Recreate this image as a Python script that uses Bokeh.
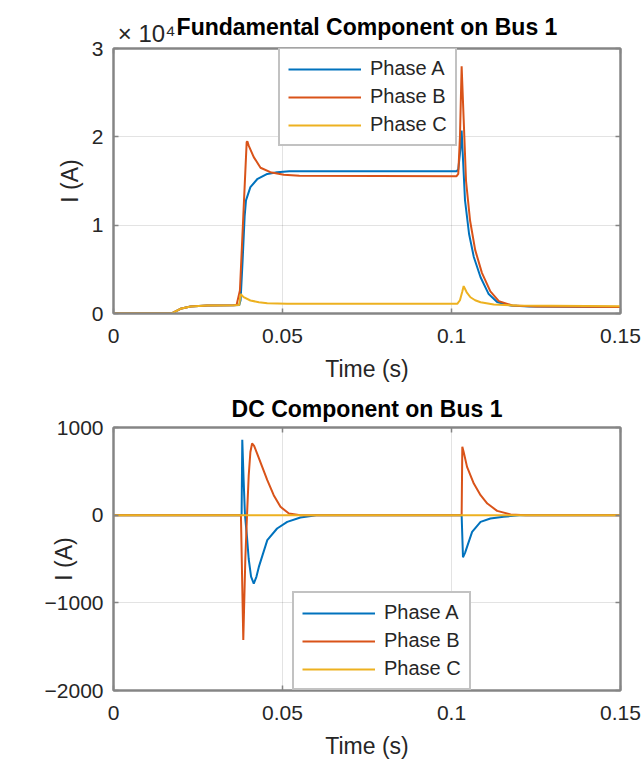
import numpy as np
from bokeh.plotting import figure
from bokeh.models import (Legend, LegendItem, LinearAxis, FixedTicker, Range1d,
                          NumeralTickFormatter, CustomJSTickFormatter)
from bokeh.layouts import column
from bokeh.embed import file_html
from bokeh.resources import INLINE

# ---------------- data ----------------
# Fundamental component on Bus 1 (A)
t_fund_A = [0, 0.0172, 0.0198, 0.0228, 0.0277, 0.0355, 0.0372, 0.0376, 0.0382, 0.0388,
            0.0392, 0.0405, 0.0425, 0.0455, 0.0484, 0.0520, 0.1015, 0.1020, 0.1026, 0.1030,
            0.1034, 0.1040, 0.1052, 0.1066, 0.1086, 0.1110, 0.1135, 0.1175, 0.1230, 0.1500]
fund_A = [0, 0, 530, 790, 900, 940, 950, 1500, 6000, 11000,
          12800, 14300, 15200, 15800, 16000, 16100, 16100, 16300, 18500, 20700,
          17500, 12800, 9000, 6400, 4100, 2200, 1300, 900, 780, 750]

t_fund_B = [0, 0.0172, 0.0198, 0.0228, 0.0277, 0.0355, 0.0364, 0.0374, 0.0384, 0.0394,
            0.0396, 0.0400, 0.0415, 0.0435, 0.0464, 0.0504, 0.0550, 0.1015, 0.1020, 0.1025,
            0.1030, 0.1036, 0.1043, 0.1055, 0.1070, 0.1090, 0.1115, 0.1140, 0.1180, 0.1250,
            0.1500]
fund_B = [0, 0, 530, 790, 900, 940, 950, 2600, 11000, 19400,
          19500, 19000, 17700, 16500, 16000, 15700, 15600, 15550, 15800, 20000,
          28000, 22000, 15000, 10500, 7200, 4600, 2500, 1400, 900, 780,
          750]

t_fund_C = [0, 0.0172, 0.0198, 0.0228, 0.0277, 0.0355, 0.0372, 0.0376, 0.0385, 0.0405,
            0.0430, 0.0455, 0.0514, 0.1017, 0.1025, 0.1032, 0.1036, 0.1045, 0.1056, 0.1070,
            0.1086, 0.1125, 0.1194, 0.1500]
fund_C = [0, 0, 530, 790, 900, 940, 950, 2200, 1850, 1470,
          1280, 1160, 1100, 1100, 1500, 2500, 3100, 2400, 1840, 1500,
          1280, 1020, 900, 820]

# DC component on Bus 1 (A)
t_dc_A = [0, 0.0379, 0.0381, 0.0385, 0.0389, 0.0395, 0.0400, 0.0407, 0.0415, 0.0423,
          0.0430, 0.0455, 0.0484, 0.0514, 0.0553, 0.0600, 0.1030, 0.1034, 0.1040, 0.1046,
          0.1061, 0.1086, 0.1115, 0.1154, 0.1200, 0.1500]
dc_A = [0, 0, 860, 400, 0, -250, -500, -700, -780, -700,
        -590, -285, -152, -76, -26, 0, 0, -480, -430, -361,
        -190, -76, -38, -19, 0, 0]

t_dc_B = [0, 0.0377, 0.0384, 0.0390, 0.0395, 0.0400, 0.0405, 0.0410, 0.0416, 0.0425,
          0.0440, 0.0455, 0.0474, 0.0494, 0.0519, 0.0553, 0.1030, 0.1032, 0.1036, 0.1046,
          0.1066, 0.1086, 0.1106, 0.1135, 0.1175, 0.1220, 0.1500]
dc_B = [0, 0, -1425, -500, 0, 450, 720, 818, 790, 703,
        550, 400, 228, 95, 19, 0, 0, 779, 720, 551,
        361, 228, 133, 49, 8, 0, 0]

t_dc_C = [0, 0.1500]
dc_C = [0, 0]

x_ticks = [0, 0.05, 0.1, 0.15]
fund_ticks = [0, 1, 2, 3]          # x 10^4
dc_ticks = [-2000, -1000, 0, 1000]
series_names = ["Phase A", "Phase B", "Phase C"]
fund_title = "Fundamental Component on Bus 1"
dc_title = "DC Component on Bus 1"
exponent_text = "× 10⁴"

# ---------------- style ----------------
FONT = "Liberation Sans"
COLORS = ["#0072BD", "#D95319", "#EDB120"]
AX = "#858585"
TXT = "#262626"


def style(p, yticks, ylabel_standoff):
    p.outline_line_color = AX
    p.outline_line_width = 2
    p.xaxis.ticker = FixedTicker(ticks=x_ticks)
    p.yaxis.ticker = FixedTicker(ticks=yticks)
    p.xgrid.ticker = FixedTicker(ticks=x_ticks)
    p.ygrid.ticker = FixedTicker(ticks=yticks)
    p.xaxis.formatter = NumeralTickFormatter(format="0.[00]")
    for g in (p.xgrid, p.ygrid):
        g.grid_line_color = "#262626"
        g.grid_line_alpha = 0.13
    for ax in (p.xaxis, p.yaxis):
        ax.axis_line_color = AX
        ax.axis_line_width = 2
        ax.major_tick_line_color = AX
        ax.major_tick_line_width = 1.5
        ax.major_tick_in = 5
        ax.major_tick_out = 0
        ax.minor_tick_line_color = None
        ax.major_label_text_font = FONT
        ax.major_label_text_font_size = "21px"
        ax.major_label_text_color = TXT
        ax.axis_label_text_font = FONT
        ax.axis_label_text_font_size = "23px"
        ax.axis_label_text_font_style = "normal"
        ax.axis_label_text_color = TXT
    p.xaxis.axis_label = "Time (s)"
    p.yaxis.axis_label = "I (A)"
    p.xaxis.major_label_standoff = 15
    p.xaxis.axis_label_standoff = 10
    p.yaxis.major_label_standoff = 10
    p.yaxis.axis_label_standoff = ylabel_standoff
    # box ticks on top and right
    for loc, tk in (("above", x_ticks), ("right", yticks)):
        a = LinearAxis(ticker=FixedTicker(ticks=tk), major_tick_in=5, major_tick_out=0,
                       minor_tick_line_color=None, major_label_text_font_size="0px",
                       major_label_standoff=0, axis_line_color=AX, axis_line_width=2,
                       major_tick_line_color=AX, major_tick_line_width=1.5)
        p.add_layout(a, loc)


def add_lines(p, ts, ys, scale, loc):
    items = []
    for t, y, c, n in zip(ts, ys, COLORS, series_names):
        r = p.line(np.array(t), np.array(y) / scale, line_color=c, line_width=2)
        items.append(LegendItem(label=n, renderers=[r]))
    lg = Legend(items=items, location=loc, padding=8, spacing=5,
                glyph_width=73, glyph_height=22, label_height=22, label_width=70,
                label_standoff=9, label_text_font=FONT, label_text_font_size="20px",
                label_text_color=TXT, border_line_color=AX, border_line_width=2,
                background_fill_color="white", background_fill_alpha=1.0, margin=0)
    p.add_layout(lg)


# ---------------- top figure ----------------
p1 = figure(width=644, height=387, output_backend="svg", toolbar_location=None,
            x_range=Range1d(0, 0.15), y_range=Range1d(0, 3),
            min_border_left=113, min_border_right=24, min_border_top=48, min_border_bottom=74)
p1.title_location = None
style(p1, fund_ticks, 6)
# exponent (x10^4) as a label on the top edge, title as that edge's label
title_axis = LinearAxis(ticker=FixedTicker(ticks=[0.0098]),
                        formatter=CustomJSTickFormatter(code="return '" + exponent_text + "';"),
                        major_tick_in=0, major_tick_out=0, minor_tick_line_color=None,
                        axis_line_color=None, major_tick_line_color=None,
                        major_label_standoff=2, major_label_text_font=FONT,
                        major_label_text_font_size="24px", major_label_text_color=TXT,
                        axis_label=fund_title, axis_label_standoff=-23,
                        axis_label_text_font=FONT, axis_label_text_font_size="23px",
                        axis_label_text_font_style="bold", axis_label_text_color="black")
p1.add_layout(title_axis, "above")
add_lines(p1, [t_fund_A, t_fund_B, t_fund_C], [fund_A, fund_B, fund_C], 1e4, (165, 167))

# ---------------- bottom figure ----------------
p2 = figure(width=644, height=378, output_backend="svg", toolbar_location=None,
            x_range=Range1d(0, 0.15), y_range=Range1d(-2000, 1000),
            min_border_left=113, min_border_right=24, min_border_top=40, min_border_bottom=75)
p2.title.text = dc_title
p2.title.align = "center"
p2.title.text_font = FONT
p2.title.text_font_size = "23px"
p2.title.text_font_style = "bold"
p2.title.text_color = "black"
p2.title.standoff = 11
style(p2, dc_ticks, -35)
add_lines(p2, [t_dc_A, t_dc_B, t_dc_C], [dc_A, dc_B, dc_C], 1.0, (179, 0))

layout = column(p1, p2, spacing=0)
with open("out.html", "w", encoding="utf-8") as f:
    f.write(file_html(layout, INLINE))
